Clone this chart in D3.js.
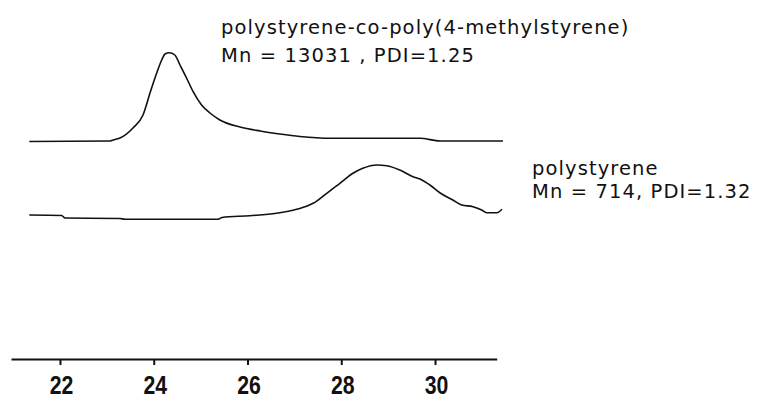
<!DOCTYPE html>
<html>
<head>
<meta charset="utf-8">
<script src="https://cdn.jsdelivr.net/npm/d3@7"></script>
<style>
  html, body { margin: 0; padding: 0; background: #fff; }
  svg { display: block; }
  .lbl { font-family: "DejaVu Sans", Verdana, sans-serif; font-size: 19.5px; letter-spacing: 1.1px; fill: #111; }
  .tick text { font-family: "Liberation Sans", Arial, sans-serif; font-weight: bold; font-size: 25px; fill: #111; }
</style>
</head>
<body>
<svg id="chart" width="770" height="398"></svg>
<script>
// Elution time (min) axis
const xExtent = [20.955, 31.316];
const tickValues = [22, 24, 26, 28, 30];
const tickLabels = ["22", "24", "26", "28", "30"];

// polystyrene-co-poly(4-methylstyrene): [time, detector signal (a.u., offset)]
const copolymerTime = [21.345, 23.067, 23.173, 23.28, 23.557, 23.771, 23.92, 24.063, 24.17, 24.24, 24.33, 24.45, 24.56, 24.70, 24.84, 25.02, 25.20, 25.41, 25.84, 26.27, 26.69, 27.12, 27.76, 29.68, 30.11, 31.45];
const copolymerSignal = [217.5, 218, 219.5, 221, 231, 244, 266, 286, 299, 305, 306.3, 304, 294, 281, 267.3, 254, 246, 239, 232, 228, 225, 222.5, 220.7, 220.7, 218, 218];

// polystyrene: [time, detector signal (a.u., offset)]
const polystyreneTime = [21.345, 22.036, 22.107, 23.28, 23.387, 25.37, 25.456, 26.05, 26.62, 27.05, 27.40, 27.69, 27.97, 28.25, 28.46, 28.76, 28.97, 29.25, 29.53, 29.68, 29.89, 30.11, 30.38, 30.57, 30.81, 30.996, 31.10, 31.32, 31.43];
const polystyreneSignal = [144, 143.5, 141, 140.5, 139.7, 139.7, 141.5, 143.3, 145.7, 149.7, 155.7, 165.7, 175.7, 185.7, 190.7, 194, 193.3, 189, 182.3, 180, 174, 166, 159, 154, 152.3, 149, 146.3, 146.3, 149.7];

const labelCopolymer = ["polystyrene-co-poly(4-methylstyrene)", "Mn = 13031 , PDI=1.25"];
const labelPolystyrene = ["polystyrene", "Mn = 714, PDI=1.32"];

const svg = d3.select("#chart");

const x = d3.scaleLinear().domain(xExtent).range([11, 496.7]);
const y = d3.scaleLinear().domain([0, 320]).range([359, 39]);

const line = d3.line()
  .x(d => x(d[0]))
  .y(d => y(d[1]))
  .curve(d3.curveMonotoneX);

const series = [
  d3.zip(copolymerTime, copolymerSignal),
  d3.zip(polystyreneTime, polystyreneSignal)
];

svg.selectAll("path.curve")
  .data(series)
  .join("path")
  .attr("class", "curve")
  .attr("d", line)
  .attr("fill", "none")
  .attr("stroke", "#111")
  .attr("stroke-width", 1.6);

// Axis
const axis = d3.axisBottom(x)
  .tickValues(tickValues)
  .tickFormat((d, i) => tickLabels[i])
  .tickSizeInner(6)
  .tickSizeOuter(0);

const gAxis = svg.append("g")
  .attr("transform", `translate(0,${y(0)})`)
  .call(axis);
gAxis.select(".domain").attr("stroke", "#111").attr("stroke-width", 2);
gAxis.selectAll(".tick line").attr("stroke", "#111").attr("stroke-width", 2);
gAxis.selectAll(".tick text")
  .attr("y", 0).attr("dy", 0)
  .attr("transform", "translate(1,35) scale(0.85,1)");

// Labels
function addLabel(lines, px, py, gap) {
  const t = svg.append("text").attr("class", "lbl");
  lines.forEach((s, i) => {
    t.append("tspan").attr("x", px).attr("y", py + i * gap).text(s);
  });
}
addLabel(labelCopolymer, 221, 34, 28);
addLabel(labelPolystyrene, 532, 175, 23);
</script>
</body>
</html>
